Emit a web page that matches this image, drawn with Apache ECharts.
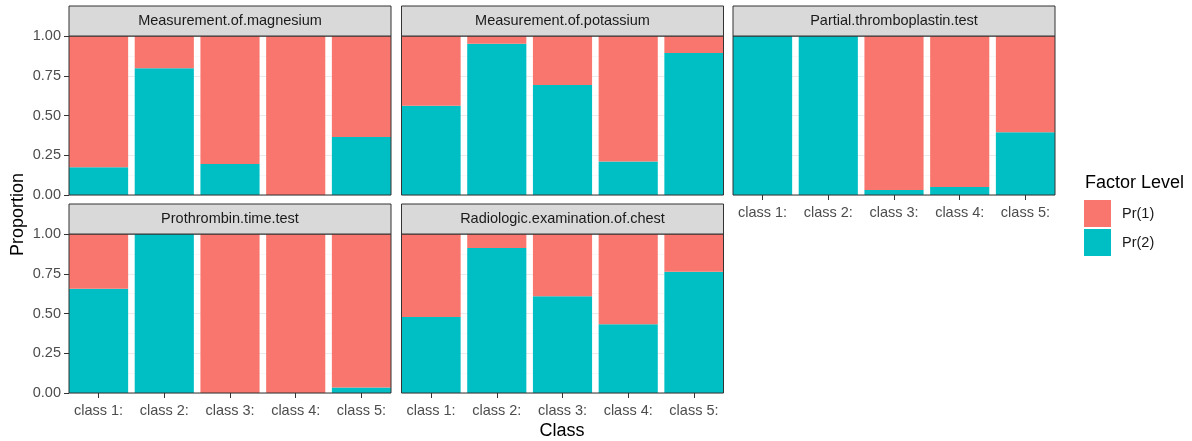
<!DOCTYPE html>
<html>
<head>
<meta charset="utf-8">
<script src="https://cdn.jsdelivr.net/npm/echarts@6/dist/echarts.min.js"></script>
<style>
html,body{margin:0;padding:0;background:#fff;}
#chart{width:1192px;height:441px;}
</style>
</head>
<body>
<div id="chart"></div>
<script>
// ---- data ----
const categories = ['class 1:', 'class 2:', 'class 3:', 'class 4:', 'class 5:'];
const panelTitles = ['Measurement.of.magnesium', 'Measurement.of.potassium', 'Partial.thromboplastin.test',
                     'Prothrombin.time.test', 'Radiologic.examination.of.chest'];
const seriesNames = ['Pr(1)', 'Pr(2)'];
const yTickValues = [0, 0.25, 0.5, 0.75, 1];

const magnesiumPr1 = [0.826, 0.203, 0.805, 1.000, 0.635];
const magnesiumPr2 = [0.174, 0.797, 0.195, 0.000, 0.365];
const potassiumPr1 = [0.438, 0.048, 0.308, 0.790, 0.107];
const potassiumPr2 = [0.562, 0.952, 0.692, 0.210, 0.893];
const thromboplastinPr1 = [0.000, 0.000, 0.969, 0.950, 0.606];
const thromboplastinPr2 = [1.000, 1.000, 0.031, 0.050, 0.394];
const prothrombinPr1 = [0.345, 0.000, 1.000, 1.000, 0.966];
const prothrombinPr2 = [0.655, 1.000, 0.000, 0.000, 0.034];
const chestPr1 = [0.522, 0.088, 0.392, 0.568, 0.238];
const chestPr2 = [0.478, 0.912, 0.608, 0.432, 0.762];

const panelPr1 = [magnesiumPr1, potassiumPr1, thromboplastinPr1, prothrombinPr1, chestPr1];
const panelPr2 = [magnesiumPr2, potassiumPr2, thromboplastinPr2, prothrombinPr2, chestPr2];

// ---- layout / style ----
const FONT = '"Liberation Sans", Arial, sans-serif';
const COL_PR1 = '#F8766D', COL_PR2 = '#00BFC4';
const W = 322, H = 159, STRIP = 30;
const colLeft = [69, 401.5, 733];
const rowTop = [36, 234];

const grid = [], xAxis = [], yAxis = [], series = [], graphic = [];

panelTitles.forEach(function (title, i) {
  const r = i < 3 ? 0 : 1, c = i % 3;
  const L = colLeft[c], T = rowTop[r];
  const showY = c === 0;
  const showX = r === 1 || c === 2;
  const band = W / 4.9;
  // frame grid (gridlines + y axis)
  grid.push({left: L, top: T, width: W, height: H});
  xAxis.push({gridIndex: 2 * i, type: 'value', min: 0, max: 1, show: false});
  yAxis.push({
    gridIndex: 2 * i, type: 'value', min: yTickValues[0], max: yTickValues[yTickValues.length - 1], interval: 0.25,
    axisLine: {show: false},
    axisTick: {show: showY, length: 5, lineStyle: {color: '#333333'}},
    axisLabel: {show: showY, formatter: function (v) { return v.toFixed(2); }, color: '#4D4D4D',
                fontSize: 14.5, fontFamily: FONT, margin: 8},
    splitLine: {show: true, lineStyle: {color: '#EBEBEB', width: 1}},
    minorTick: {show: false, splitNumber: 2},
    minorSplitLine: {show: true, lineStyle: {color: '#F3F3F3', width: 0.6}}
  });
  // bar grid
  grid.push({left: L - 0.05 * band, top: T, width: 5 * band, height: H});
  xAxis.push({
    gridIndex: 2 * i + 1, type: 'category', data: categories,
    axisLine: {show: false},
    axisTick: {show: showX, alignWithLabel: true, length: 5, lineStyle: {color: '#333333'}},
    axisLabel: {show: showX, color: '#4D4D4D', fontSize: 14.5, fontFamily: FONT, margin: 10},
    splitLine: {show: false}
  });
  yAxis.push({gridIndex: 2 * i + 1, type: 'value', min: 0, max: 1, show: false});

  series.push({
    type: 'bar', name: seriesNames[1], xAxisIndex: 2 * i + 1, yAxisIndex: 2 * i + 1,
    stack: 'p' + i, barWidth: '90%', data: panelPr2[i], itemStyle: {color: COL_PR2}
  });
  series.push({
    type: 'bar', name: seriesNames[0], xAxisIndex: 2 * i + 1, yAxisIndex: 2 * i + 1,
    stack: 'p' + i, barWidth: '90%', data: panelPr1[i], itemStyle: {color: COL_PR1}
  });

  // panel border
  graphic.push({type: 'rect', z: 100, silent: true,
    shape: {x: L, y: T, width: W, height: H},
    style: {fill: 'none', stroke: '#333333', lineWidth: 1}});
  // strip
  graphic.push({type: 'rect', z: 100, silent: true,
    shape: {x: L, y: T - STRIP, width: W, height: STRIP},
    style: {fill: '#D9D9D9', stroke: '#333333', lineWidth: 1}});
  graphic.push({type: 'text', z: 101, silent: true, x: L + W / 2, y: T - STRIP / 2,
    style: {text: title, fill: '#1A1A1A', font: '14.5px ' + FONT, textAlign: 'center', textVerticalAlign: 'middle'}});
});

// axis titles
graphic.push({type: 'text', z: 101, silent: true, x: 18.5, y: 214.5, rotation: Math.PI / 2,
  style: {text: 'Proportion', fill: '#000', font: '18px ' + FONT, textAlign: 'center', textVerticalAlign: 'middle'}});
graphic.push({type: 'text', z: 101, silent: true, x: 562, y: 431.5,
  style: {text: 'Class', fill: '#000', font: '18px ' + FONT, textAlign: 'center', textVerticalAlign: 'middle'}});
// legend title
graphic.push({type: 'text', z: 101, silent: true, x: 1085, y: 183,
  style: {text: 'Factor Level', fill: '#000', font: '18px ' + FONT, textAlign: 'left', textVerticalAlign: 'middle'}});

const chart = echarts.init(document.getElementById('chart'), null, {renderer: 'canvas'});
chart.setOption({
  animation: false,
  backgroundColor: '#ffffff',
  textStyle: {fontFamily: FONT},
  grid: grid, xAxis: xAxis, yAxis: yAxis, series: series, graphic: graphic,
  legend: {
    data: seriesNames, orient: 'vertical', left: 1084, top: 200, padding: 0,
    itemWidth: 27, itemHeight: 27, itemGap: 2, icon: 'rect', selectedMode: false,
    textStyle: {fontSize: 14.5, color: '#1A1A1A', fontFamily: FONT, padding: [0, 0, 0, 6]}
  }
});
</script>
</body>
</html>
